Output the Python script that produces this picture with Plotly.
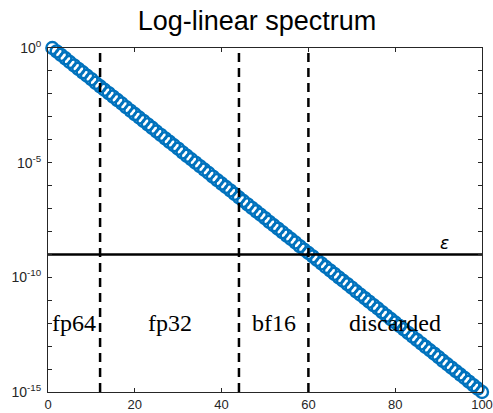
import plotly.graph_objects as go

# index of each singular value
indices = list(range(1, 101))
# log10 of each singular value
log10_values = [
    0.00, -0.15, -0.30, -0.45, -0.61, -0.76, -0.91, -1.06, -1.21, -1.36,
    -1.52, -1.67, -1.82, -1.97, -2.12, -2.27, -2.42, -2.58, -2.73, -2.88,
    -3.03, -3.18, -3.33, -3.48, -3.64, -3.79, -3.94, -4.09, -4.24, -4.39,
    -4.55, -4.70, -4.85, -5.00, -5.15, -5.30, -5.45, -5.61, -5.76, -5.91,
    -6.06, -6.21, -6.36, -6.52, -6.67, -6.82, -6.97, -7.12, -7.27, -7.42,
    -7.58, -7.73, -7.88, -8.03, -8.18, -8.33, -8.48, -8.64, -8.79, -8.94,
    -9.09, -9.24, -9.39, -9.55, -9.70, -9.85, -10.00, -10.15, -10.30, -10.45,
    -10.61, -10.76, -10.91, -11.06, -11.21, -11.36, -11.52, -11.67, -11.82, -11.97,
    -12.12, -12.27, -12.42, -12.58, -12.73, -12.88, -13.03, -13.18, -13.33, -13.48,
    -13.64, -13.79, -13.94, -14.09, -14.24, -14.39, -14.55, -14.70, -14.85, -15.00,
]
values = [10 ** v for v in log10_values]

epsilon = 1e-9
split_points = [12, 44, 60]
region_labels = ["fp64", "fp32", "bf16", "discarded"]
region_centers = [6, 28, 52, 80]
region_label_log = -12

x_ticks = [0, 20, 40, 60, 80, 100]
y_ticks = [1e0, 1e-5, 1e-10, 1e-15]
y_ticktext = ["10<sup>0</sup>", "10<sup>-5</sup>", "10<sup>-10</sup>", "10<sup>-15</sup>"]
y_minor = [10.0 ** (-k) for k in range(1, 15)]

AXC = "#262626"
BLUE = "#0072BD"

fig = go.Figure()

fig.add_trace(go.Scatter(
    x=indices, y=values, mode="markers",
    marker=dict(symbol="circle-open", size=12, color=BLUE, line=dict(width=2.4, color=BLUE)),
    cliponaxis=False, showlegend=False,
))

# epsilon line
fig.add_trace(go.Scatter(
    x=[0, 100], y=[epsilon, epsilon], mode="lines",
    line=dict(color="black", width=2.5), showlegend=False, hoverinfo="skip",
))

for xv in split_points:
    fig.add_shape(type="line", xref="x", yref="paper", x0=xv, x1=xv, y0=0, y1=1,
                  line=dict(color="black", width=2.5, dash="9px,6px"))

for lab, cx in zip(region_labels, region_centers):
    fig.add_annotation(x=cx, y=region_label_log, xref="x", yref="y", text=lab, showarrow=False,
                       font=dict(family="Liberation Serif", size=24, color="black"))

fig.add_annotation(x=91.3, y=-9, xref="x", yref="y", text="<i>ε</i>", showarrow=False,
                   yanchor="bottom", yshift=-1,
                   font=dict(family="DejaVu Sans", size=17, color="black"))

fig.update_layout(
    width=493, height=413,
    margin=dict(l=48, r=11, t=48, b=21, autoexpand=False),
    paper_bgcolor="white", plot_bgcolor="white",
    title=dict(text="Log-linear spectrum", x=257 / 493, xref="container", xanchor="center",
               y=0.95, yref="container", yanchor="middle",
               font=dict(family="Liberation Sans", size=27, color="black")),
    font=dict(family="Liberation Sans", size=13, color=AXC),
)

fig.update_xaxes(
    range=[0, 100], tickvals=x_ticks, ticks="inside", ticklen=4, tickwidth=1,
    tickcolor=AXC, showline=True, linecolor=AXC, linewidth=1, mirror="ticks",
    showgrid=False, zeroline=False, automargin=False, ticklabeloverflow="allow",
    tickfont=dict(family="Liberation Sans", size=13, color=AXC),
)
fig.update_yaxes(
    type="log", range=[-15, 0], tickvals=y_ticks, ticktext=y_ticktext,
    ticks="inside", ticklen=4, tickwidth=1, tickcolor=AXC,
    showline=True, linecolor=AXC, linewidth=1, mirror="ticks",
    showgrid=False, zeroline=False, automargin=False, ticklabelstandoff=3,
    ticklabeloverflow="allow",
    tickfont=dict(family="Liberation Sans", size=14, color=AXC),
    minor=dict(tickvals=y_minor, ticks="inside", ticklen=4, tickcolor=AXC, showgrid=False),
)

fig.write_html("out.html", config={"displayModeBar": False},
               post_script="document.body.style.margin='0';document.body.style.overflow='hidden';")
